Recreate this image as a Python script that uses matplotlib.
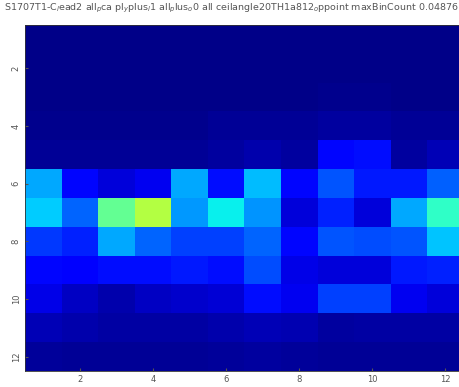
import numpy as np
import matplotlib
matplotlib.use("Agg")
import matplotlib.pyplot as plt

TITLE = ("S1707T1-C$_l$ead2 all$_p$ca pl$_y$plus$_l$1 all$_p$lus$_o$0 "
         "all ceilangle20TH1a812$_o$ppoint maxBinCount 0.04876")

# bin values, rows 1..12 (top to bottom), columns 1..12
ROW1 = [0.01, 0.01, 0.01, 0.01, 0.01, 0.01, 0.01, 0.01, 0.01, 0.01, 0.01, 0.01]
ROW2 = [0.01, 0.01, 0.01, 0.01, 0.01, 0.01, 0.01, 0.01, 0.01, 0.01, 0.01, 0.01]
ROW3 = [0.01, 0.01, 0.01, 0.01, 0.01, 0.01, 0.01, 0.01, 0.015, 0.015, 0.01, 0.01]
ROW4 = [0.015, 0.015, 0.015, 0.015, 0.015, 0.02, 0.02, 0.02, 0.03, 0.03, 0.02, 0.02]
ROW5 = [0.02, 0.02, 0.02, 0.02, 0.02, 0.03, 0.04, 0.03, 0.13, 0.14, 0.03, 0.05]
ROW6 = [0.29, 0.13, 0.08, 0.10, 0.29, 0.14, 0.31, 0.13, 0.21, 0.15, 0.15, 0.22]
ROW7 = [0.325, 0.225, 0.47, 0.57, 0.275, 0.36, 0.27, 0.08, 0.16, 0.08, 0.29, 0.41]
ROW8 = [0.18, 0.16, 0.29, 0.225, 0.19, 0.19, 0.225, 0.13, 0.21, 0.20, 0.21, 0.32]
ROW9 = [0.13, 0.12, 0.14, 0.14, 0.15, 0.14, 0.20, 0.09, 0.08, 0.08, 0.15, 0.16]
ROW10 = [0.09, 0.06, 0.04, 0.06, 0.07, 0.075, 0.14, 0.10, 0.19, 0.19, 0.10, 0.08]
ROW11 = [0.05, 0.04, 0.035, 0.035, 0.035, 0.04, 0.05, 0.045, 0.03, 0.035, 0.035, 0.035]
ROW12 = [0.025, 0.02, 0.02, 0.02, 0.02, 0.025, 0.03, 0.025, 0.02, 0.02, 0.02, 0.02]

TICKS = [2, 4, 6, 8, 10, 12]

grid = np.array([ROW1, ROW2, ROW3, ROW4, ROW5, ROW6,
                 ROW7, ROW8, ROW9, ROW10, ROW11, ROW12])

fig = plt.figure(figsize=(4.59, 3.87), dpi=100)
ax = fig.add_axes([0.0545, 0.041, 0.955, 0.894])
ax.imshow(grid, cmap="jet", vmin=0, vmax=1, aspect="auto",
          interpolation="nearest",
          extent=(0.5, grid.shape[1] + 0.5, grid.shape[0] + 0.5, 0.5))
ax.set_xticks(TICKS)
ax.set_yticks(TICKS)
ax.set_yticklabels([str(t) for t in TICKS], rotation=90, va="center")
ax.tick_params(direction="in", length=2, labelsize=6, colors="#555555",
               pad=3)
for s in ax.spines.values():
    s.set_linewidth(0.6)
    s.set_color("#333333")
fig.text(0.503, 0.978, TITLE, fontsize=6.8, color="#555555",
         ha="center", va="center")

fig.savefig("out.png", dpi=100)
